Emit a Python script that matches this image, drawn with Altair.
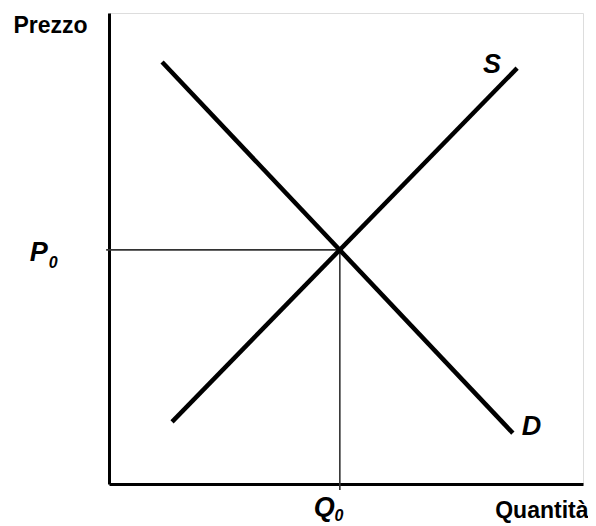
import altair as alt
import pandas as pd

# Curves (quantity, price) in arbitrary units 0-10
demand_q = [1.12, 8.52]
demand_p = [8.96, 1.08]
supply_q = [1.33, 8.61]
supply_p = [1.32, 8.83]

# Equilibrium
q0 = 4.87
p0 = 4.97

# Curve / point labels
label_text = ["S", "D", "P", "Q"]
label_q = [7.89, 8.71, -1.67, 4.32]
label_p = [8.73, 1.04, 4.73, -0.67]
sub_text = ["0", "0"]
sub_q = [-1.27, 4.76]
sub_p = [4.59, -0.78]

W, H = 474, 471
xs = alt.Scale(domain=[0, 10], nice=False, zero=False)
ys = alt.Scale(domain=[0, 10], nice=False, zero=False)

curves = pd.DataFrame({
    "q": demand_q + supply_q,
    "p": demand_p + supply_p,
    "curve": ["D", "D", "S", "S"],
})

xaxis = alt.Axis(title="Quantità", labels=False, ticks=False, grid=False,
                 domainColor="black", domainWidth=3,
                 titleFont="Liberation Sans", titleFontSize=23, titleFontWeight="bold",
                 titleColor="black", titleAlign="right", titleX=479, titleY=33,
                 titleBaseline="alphabetic")
yaxis = alt.Axis(title="Prezzo", labels=False, ticks=False, grid=False,
                 domainColor="black", domainWidth=3,
                 titleFont="Liberation Sans", titleFontSize=23, titleFontWeight="bold",
                 titleColor="black", titleAngle=0, titleAlign="left", titleX=-96, titleY=19,
                 titleBaseline="alphabetic")

lines = alt.Chart(curves).mark_line(color="black", strokeWidth=4.5).encode(
    x=alt.X("q:Q", scale=xs, axis=xaxis),
    y=alt.Y("p:Q", scale=ys, axis=yaxis),
    detail="curve:N",
)

guides = pd.DataFrame({
    "x1": [-0.06, q0],
    "x2": [q0, q0],
    "y1": [p0, p0],
    "y2": [p0, -0.13],
})
guide_rules = alt.Chart(guides).mark_rule(color="#333333", strokeWidth=1.6).encode(
    x=alt.X("x1:Q", scale=xs), x2="x2:Q",
    y=alt.Y("y1:Q", scale=ys), y2="y2:Q",
)

labels = pd.DataFrame({"t": label_text, "q": label_q, "p": label_p})
label_marks = alt.Chart(labels).mark_text(
    font="Liberation Sans", fontSize=27, fontWeight="bold", fontStyle="italic",
    align="left", baseline="alphabetic", color="black",
).encode(x=alt.X("q:Q", scale=xs), y=alt.Y("p:Q", scale=ys), text="t:N")

subs = pd.DataFrame({"t": sub_text, "q": sub_q, "p": sub_p})
sub_marks = alt.Chart(subs).mark_text(
    font="Liberation Sans", fontSize=16, fontWeight="bold", fontStyle="italic",
    align="left", baseline="alphabetic", color="black",
).encode(x=alt.X("q:Q", scale=xs), y=alt.Y("p:Q", scale=ys), text="t:N")

chart = alt.layer(guide_rules, lines, label_marks, sub_marks).properties(
    width=W, height=H,
    autosize=alt.AutoSizeParams(type="none"),
    padding={"left": 101, "top": 5, "right": 5, "bottom": 40},
).configure_view(stroke=None).configure(background="white")

chart.save("out.html", embed_options={"renderer": "svg", "actions": False})
